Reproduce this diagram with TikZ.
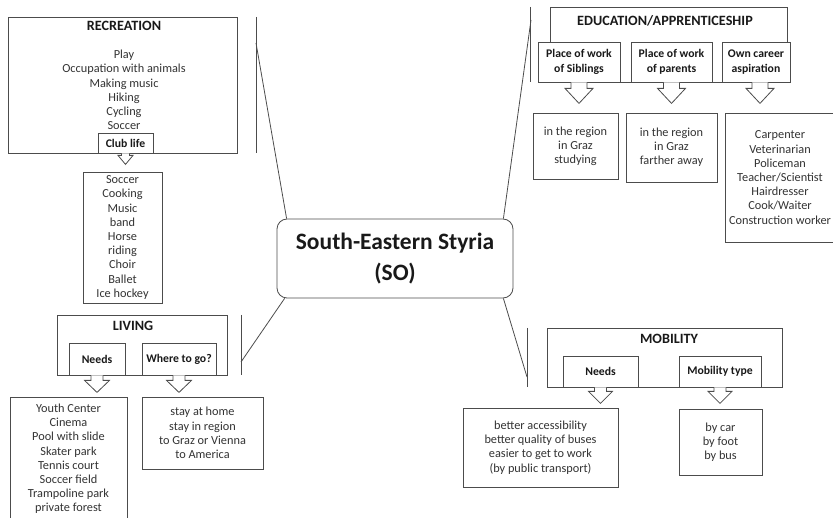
\documentclass[tikz,border=0pt]{standalone}
\usepackage{fontspec}
\setmainfont{Carlito}

\begin{document}
\begin{tikzpicture}[x=1pt, y=-1pt,
	boxline/.style={draw=black!70, line width=0.8pt},
	frame/.style={boxline, rectangle, inner sep=0pt},
	subbox/.style={boxline, fill=white, inner sep=0pt, align=center, text=black!90, font=\fontsize{11.7}{14.5}\selectfont\bfseries},
	listbox/.style={boxline, fill=white, inner sep=0pt, align=center, text=black!80, font=\fontsize{12.3}{14.2}\selectfont},
	listtext/.style={align=center, inner sep=0pt, text=black!80, font=\fontsize{12.3}{14.2}\selectfont},
	title/.style={inner sep=0pt, text=black!90, font=\fontsize{14.2}{16}\selectfont\bfseries},
	pics/blockarrow/.style n args={4}{code={
		\draw[boxline, fill=white] (-#1,0) -- (-#1,#3) -- (-#2,#3) -- (0,#4) -- (#2,#3) -- (#1,#3) -- (#1,0);
	}}]
	\useasboundingbox (0,0) rectangle (833,518);
	\clip (0,0) rectangle (833,518);
	% centre
	\node[boxline, rounded corners=10pt, minimum width=236pt, minimum height=79pt, align=center, text=black!90, font=\fontsize{23.5}{31}\selectfont\bfseries] (styria) at (395,258.5) {South-Eastern Styria\\(SO)};
	% recreation
	\node[frame, minimum width=229pt, minimum height=136pt] (recreation) at (122.5,85) { };
	\node[title] (recreationtitle) at (124,26) {RECREATION};
	\node[listtext] (recreationlist) at (124,90) {Play\\Occupation with animals\\Making music\\Hiking\\Cycling\\Soccer};
	\node[subbox, minimum width=55pt, minimum height=20pt] (clublife) at (125.5,143) {Club life};
	\pic at (clublife.south) {blockarrow={4}{7.5}{2}{11}};
	\node[listbox, minimum width=79pt, minimum height=131pt] (clublist) at (122.5,237.5) {Soccer\\Cooking\\Music\\band\\Horse\\riding\\Choir\\Ballet\\Ice hockey};
	% living
	\node[frame, minimum width=170pt, minimum height=60pt] (living) at (142,345) { };
	\node[title] (livingtitle) at (133,326) {LIVING};
	\node[subbox, minimum width=56pt, minimum height=32pt] (livneeds) at (97,359) {Needs};
	\node[subbox, minimum width=74pt, minimum height=32pt] (wheretogo) at (179,359) {Where to go?};
	\pic at (livneeds.south) {blockarrow={6}{12.5}{5}{17}};
	\pic at (wheretogo.south) {blockarrow={6}{12.5}{5}{17}};
	\node[listbox, minimum width=117pt, minimum height=124pt] (livneedslist) at (68.5,459) {Youth Center\\Cinema\\Pool with slide\\Skater park\\Tennis court\\Soccer field\\Trampoline park\\private forest};
	\node[listbox, minimum width=121pt, minimum height=72pt] (wheretogolist) at (202.5,433) {stay at home\\stay in region\\to Graz or Vienna\\to America};
	% education
	\node[frame, minimum width=237pt, minimum height=75pt] (education) at (668.5,44.5) { };
	\node[title] (educationtitle) at (665,21) {EDUCATION/APPRENTICESHIP};
	\node[subbox, minimum width=82pt, minimum height=40pt] (siblings) at (579,62) {Place of work\\of Siblings};
	\node[subbox, minimum width=81pt, minimum height=40pt] (parents) at (671.5,62) {Place of work\\of parents};
	\node[subbox, minimum width=68pt, minimum height=40pt] (owncareer) at (756,62) {Own career\\aspiration};
	\pic at (siblings.south) {blockarrow={8}{14}{6}{21}};
	\pic at (parents.south) {blockarrow={8}{14}{6}{21}};
	\pic at ([xshift=4pt]owncareer.south) {blockarrow={8}{14}{6}{21}};
	\node[listbox, minimum width=85pt, minimum height=66pt] (siblingslist) at (575.5,146) {in the region\\in Graz\\studying};
	\node[listbox, minimum width=91pt, minimum height=69pt] (parentslist) at (671.5,147.5) {in the region\\in Graz\\farther away};
	\node[listbox, minimum width=110pt, minimum height=129pt] (owncareerlist) at (780,177.5) {Carpenter\\Veterinarian\\Policeman\\Teacher/Scientist\\Hairdresser\\Cook/Waiter\\Construction worker};
	% mobility
	\node[frame, minimum width=235pt, minimum height=59pt] (mobility) at (664.5,357.5) { };
	\node[title] (mobilitytitle) at (669,339) {MOBILITY};
	\node[subbox, minimum width=75pt, minimum height=31pt] (mobneeds) at (600.5,371.5) {Needs};
	\node[subbox, minimum width=82pt, minimum height=31pt] (mobtype) at (720,371.5) {Mobility type};
	\pic at (mobneeds.south) {blockarrow={6}{12}{4}{16}};
	\pic at (mobtype.south) {blockarrow={6}{12}{4}{16}};
	\node[listbox, minimum width=155pt, minimum height=79pt] (mobneedslist) at (540.5,447.5) {better accessibility\\better quality of buses\\easier to get to work\\(by public transport)};
	\node[listbox, minimum width=83pt, minimum height=66pt] (mobtypelist) at (720.5,442) {by car\\by foot\\by bus};
	% connectors to the centre
	\coordinate (recbartop) at (256,17);
	\coordinate (recbarbot) at (256,153);
	\coordinate (recjoin) at (256,43);
	\coordinate (edubartop) at (530,7);
	\coordinate (edubarbot) at (530,82);
	\coordinate (edujoin) at (531,20);
	\coordinate (livbartop) at (241,315);
	\coordinate (livbarbot) at (241,375);
	\coordinate (livjoin) at (241,362);
	\coordinate (mobbartop) at (527,328);
	\coordinate (mobbarbot) at (527,387);
	\coordinate (mobjoin) at (527,377);
	\draw[boxline] (recbartop) -- (recbarbot);
	\draw[boxline] (edubartop) -- (edubarbot);
	\draw[boxline] (livbartop) -- (livbarbot);
	\draw[boxline] (mobbartop) -- (mobbarbot);
	\draw[boxline] (recjoin) -- ([xshift=10pt]styria.north west);
	\draw[boxline] (edujoin) -- ([xshift=-10pt]styria.north east);
	\draw[boxline] (livjoin) -- ([xshift=8pt]styria.south west);
	\draw[boxline] (mobjoin) -- ([xshift=-10pt]styria.south east);
\end{tikzpicture}
\end{document}
